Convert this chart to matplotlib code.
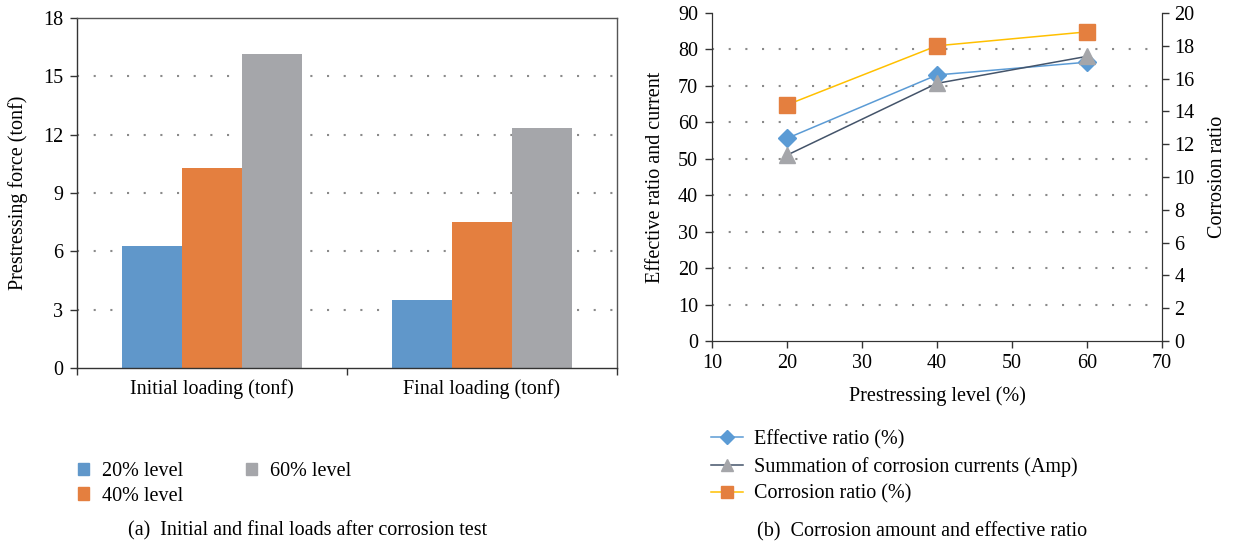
import matplotlib.pyplot as plt
import numpy as np
from matplotlib.lines import Line2D
from matplotlib.patches import Patch

# ---- data (a) ----
load_cats = ["Initial loading (tonf)", "Final loading (tonf)"]
level_names = ["20% level", "40% level", "60% level"]
force_20 = [6.3, 3.5]
force_40 = [10.3, 7.5]
force_60 = [16.15, 12.35]

# ---- data (b) ----
prestress_level = [20, 40, 60]
effective_ratio = [55.6, 73.0, 76.5]
corrosion_current = [51.0, 70.7, 78.1]
corrosion_ratio = [14.4, 18.0, 18.85]
series_names = ["Effective ratio (%)", "Summation of corrosion currents (Amp)",
                "Corrosion ratio (%)"]

BLUE = "#6097ca"
ORANGE = "#e47f3f"
GRAY = "#a5a6aa"
AXC = "#333333"
GRIDC = "#8a8a8a"

plt.rcParams["font.family"] = ["Liberation Serif", "DejaVu Serif"]
plt.rcParams["font.size"] = 14.5

W, H = 1233, 546
fig = plt.figure(figsize=(W / 100, H / 100), dpi=100)


def px_axes(x0, y0, x1, y1):
    return fig.add_axes([x0 / W, 1 - y1 / H, (x1 - x0) / W, (y1 - y0) / H])


dots = (0, (1, 7))

# ---------------- (a) bar chart ----------------
ax = px_axes(77, 18, 617, 368)
x = np.arange(len(load_cats))
bw = 0.222
for i, (vals, c) in enumerate(zip([force_20, force_40, force_60], [BLUE, ORANGE, GRAY])):
    ax.bar(x + (i - 1) * bw, vals, bw, color=c, zorder=2, label=level_names[i])
ax.set_xlim(-0.5, 1.5)
ax.set_ylim(0, 18)
ax.set_yticks(np.arange(0, 19, 3))
ax.set_xticks([-0.5, 0.5, 1.5])
ax.set_xticklabels([])
ax.set_xticks(x, minor=True)
ax.set_xticklabels(load_cats, minor=True)
ax.tick_params(axis="x", which="minor", length=0, pad=8)
ax.tick_params(axis="x", which="major", length=5, width=1, color=AXC)
ax.tick_params(axis="y", length=5, width=1, color=AXC, pad=5)
for yv in range(3, 18, 3):
    ax.axhline(yv, color=GRIDC, lw=1.5, ls=dots, zorder=1)
for s in ax.spines.values():
    s.set_color(AXC)
    s.set_linewidth(1.0)
for s in ["top", "right"]:
    ax.spines[s].set_color("#555555")
ax.set_ylabel("Prestressing force (tonf)")
ax.yaxis.set_label_coords(-0.091, 0.5)

handles_a = [Patch(color=c) for c in [BLUE, ORANGE, GRAY]]
fig.legend(handles_a, level_names, ncol=2, loc="upper left",
           bbox_to_anchor=(78 / W, 1 - 462 / H), frameon=False, borderpad=0,
           borderaxespad=0, handlelength=0.55, handleheight=0.55,
           handletextpad=0.65, columnspacing=3.1, labelspacing=0.28)
fig.text(128 / W, 1 - 531 / H, "(a)  Initial and final loads after corrosion test",
         ha="left", va="center")

# ---------------- (b) line chart ----------------
ax2 = px_axes(712, 13, 1162, 341)
ax2.set_xlim(10, 70)
ax2.set_ylim(0, 90)
ax2.set_xticks(np.arange(10, 71, 10))
ax2.set_yticks(np.arange(0, 91, 10))
for yv in range(10, 90, 10):
    ax2.axhline(yv, color=GRIDC, lw=1.5, ls=dots, zorder=0)
l1, = ax2.plot(prestress_level, effective_ratio, color="#5b9bd5", lw=1.1,
               marker="D", ms=9, mfc="#5b9bd5", mec="#5b9bd5", zorder=3)
l2, = ax2.plot(prestress_level, corrosion_current, color="#44546a", lw=1.1,
               marker="^", ms=11, mfc=GRAY, mec=GRAY, zorder=3)
ax2.spines["top"].set_visible(False)
for s in ["left", "bottom", "right"]:
    ax2.spines[s].set_color(AXC)
ax2.tick_params(axis="x", length=5, width=1, color=AXC, pad=4)
ax2.tick_params(axis="y", length=5, width=1, color=AXC, pad=5)
ax2.set_xlabel("Prestressing level (%)")
ax2.xaxis.set_label_coords(0.5, -0.137)
ax2.set_ylabel("Effective ratio and current")
ax2.yaxis.set_label_coords(-0.104, 0.5)

ax3 = ax2.twinx()
ax3.set_ylim(0, 20)
ax3.set_yticks(np.arange(0, 21, 2))
l3, = ax3.plot(prestress_level, corrosion_ratio, color="#ffc000", lw=1.1,
               marker="s", ms=11, mfc=ORANGE, mec=ORANGE, zorder=3)
ax3.spines["top"].set_visible(False)
for s in ["left", "bottom", "right"]:
    ax3.spines[s].set_color(AXC)
ax3.tick_params(length=5, width=1, color=AXC, pad=4)
ax3.set_ylabel("Corrosion ratio")
ax3.yaxis.set_label_coords(1.102, 0.5)

fig.legend([l1, l2, l3], series_names,
           loc="upper left", bbox_to_anchor=(711 / W, 1 - 430 / H), frameon=False,
           borderpad=0, borderaxespad=0, handlelength=1.6, handletextpad=0.55,
           labelspacing=0.38, markerscale=0.8)
fig.text(757 / W, 1 - 532 / H, "(b)  Corrosion amount and effective ratio",
         ha="left", va="center")

fig.savefig("out.png", dpi=100)
